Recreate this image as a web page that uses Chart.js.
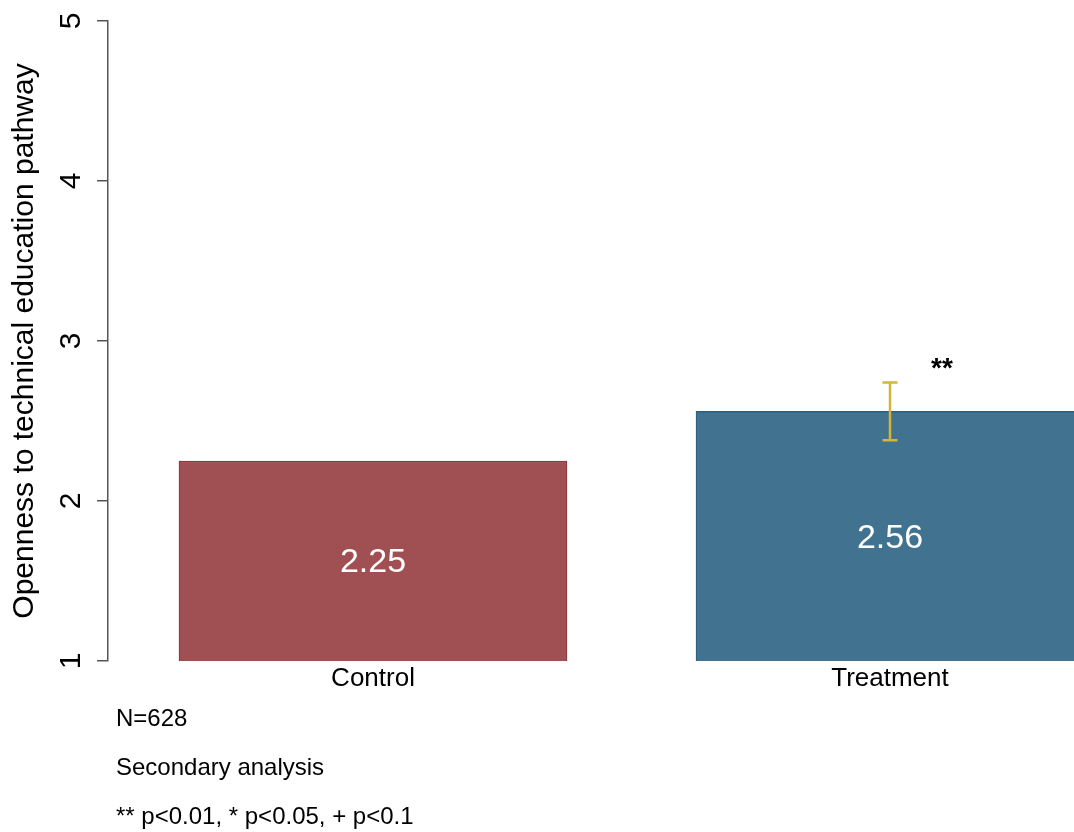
<!DOCTYPE html>
<html>
<head>
<meta charset="utf-8">
<script src="https://cdn.jsdelivr.net/npm/chart.js@4"></script>
<style>
  html, body { margin: 0; padding: 0; background: #fff; overflow: hidden; }
  #wrap { width: 1074px; height: 832px; position: relative; }
</style>
</head>
<body>
<div id="wrap"><canvas id="grafica" width="1074" height="832"></canvas></div>
<script>
const categories = ["Control", "Treatment"];
const positions = [1, 2];
const means = [2.25, 2.56];
const ciLow = [null, 2.38];
const ciHigh = [null, 2.74];
const stars = ["", "**"];
const yTicks = [1, 2, 3, 4, 5];
const notes = ["N=628", "Secondary analysis", "** p<0.01, * p<0.05, + p<0.1"];

const FONT = "'Liberation Sans', Arial, sans-serif";
const axisGray = "#555555";

// rotated y tick labels, bar labels, error bar, stars, notes
const extras = {
  id: "extras",
  afterDatasetsDraw(chart) {
    const { ctx, scales: { x, y } } = chart;
    const meta = chart.getDatasetMeta(0);
    const base = y.getPixelForValue(y.min);
    ctx.save();
    // value labels in the middle of each bar
    meta.data.forEach((bar, i) => {
      ctx.fillStyle = "#ffffff";
      ctx.font = "34px " + FONT;
      ctx.textAlign = "center";
      ctx.textBaseline = "middle";
      ctx.fillText(means[i].toFixed(2), bar.x, (bar.y + base) / 2 + 2);
    });
    // error bars
    meta.data.forEach((bar, i) => {
      if (ciLow[i] == null) return;
      const yl = y.getPixelForValue(ciLow[i]);
      const yh = y.getPixelForValue(ciHigh[i]);
      ctx.strokeStyle = "#d4b43a";
      ctx.lineWidth = 2.5;
      ctx.beginPath();
      ctx.moveTo(bar.x, yl); ctx.lineTo(bar.x, yh);
      ctx.moveTo(bar.x - 7.5, yl); ctx.lineTo(bar.x + 7.5, yl);
      ctx.moveTo(bar.x - 7.5, yh); ctx.lineTo(bar.x + 7.5, yh);
      ctx.stroke();
      if (stars[i]) {
        ctx.fillStyle = "#000";
        ctx.font = "bold 28px " + FONT;
        ctx.textAlign = "center";
        ctx.textBaseline = "middle";
        ctx.fillText(stars[i], bar.x + 52, yh - 13);
      }
    });
    ctx.restore();
  },
  afterDraw(chart) {
    const { ctx, scales: { y } } = chart;
    ctx.save();
    ctx.fillStyle = "#000";
    ctx.font = "30px " + FONT;
    ctx.textAlign = "center";
    ctx.textBaseline = "middle";
    yTicks.forEach(t => {
      ctx.save();
      ctx.translate(72, y.getPixelForValue(t));
      ctx.rotate(-Math.PI / 2);
      ctx.fillText(String(t), 0, 0);
      ctx.restore();
    });
    ctx.font = "24px " + FONT;
    ctx.textAlign = "left";
    ctx.textBaseline = "alphabetic";
    notes.forEach((n, i) => {
      ctx.fillText(n, 116, 726 + i * 49);
    });
    ctx.restore();
  }
};

new Chart(document.getElementById("grafica").getContext("2d"), {
  type: "bar",
  data: {
    datasets: [{
      data: positions.map((p, i) => ({ x: p, y: means[i] })),
      backgroundColor: ["#a05052", "#41728f"],
      borderColor: ["#8b3a3f", "#2d5f80"],
      borderWidth: 1.5,
      borderSkipped: false,
      barThickness: 388
    }]
  },
  options: {
    responsive: false,
    animation: false,
    layout: { padding: { top: 20, left: 0, right: 0, bottom: 0 } },
    plugins: {
      legend: { display: false },
      tooltip: { enabled: false }
    },
    scales: {
      x: {
        type: "linear",
        offset: false,
        min: 0.4874,
        max: 2.3559,
        afterBuildTicks: s => { s.ticks = positions.map(v => ({ value: v })); },
        afterFit: s => { s.height = 171; },
        grid: { display: false, drawTicks: false, offset: false },
        border: { display: false },
        ticks: {
          color: "#000",
          font: { family: FONT, size: 26 },
          padding: 2,
          maxRotation: 0,
          callback: v => categories[positions.indexOf(v)]
        }
      },
      y: {
        min: 1,
        max: 5,
        afterBuildTicks: s => { s.ticks = yTicks.map(v => ({ value: v })); },
        afterFit: s => { s.width = 108; },
        grid: { drawOnChartArea: false, drawTicks: true, tickLength: 11, color: axisGray, lineWidth: 1.5 },
        border: { display: true, color: axisGray, width: 1.5 },
        ticks: { display: true, color: "rgba(0,0,0,0)", font: { family: FONT, size: 30 } },
        title: {
          display: true,
          text: "Openness to technical education pathway",
          color: "#000",
          font: { family: FONT, size: 30 },
          padding: { top: 7, bottom: 0 }
        }
      }
    }
  },
  plugins: [extras]
});
</script>
</body>
</html>
